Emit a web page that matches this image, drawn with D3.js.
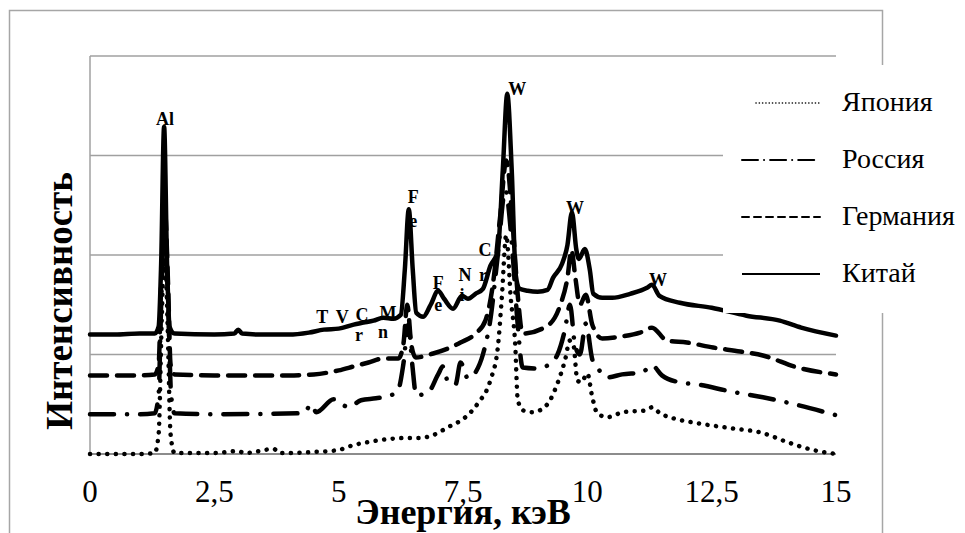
<!DOCTYPE html>
<html>
<head>
<meta charset="utf-8">
<script src="https://cdn.jsdelivr.net/npm/d3@7"></script>
<style>
  body { margin: 0; background: #fff; }
  text { font-family: "Liberation Serif", "DejaVu Serif", "Times New Roman", Times, serif; }
</style>
</head>
<body>
<svg id="chart" width="965" height="533"></svg>
<script>
// spectra, [energy keV, intensity a.u.] (curves are offset vertically like in the source)
const chinaData = [
  [0,120],[0.5,120],[1.0,121],[1.3,121],[1.38,128],[1.43,190],[1.49,329],[1.55,190],[1.6,128],[1.7,121],
  [2.5,120],[2.9,121],[2.98,125],[3.06,121],[3.5,120],[4.0,120],[4.4,122],[4.7,125],[5.0,126],[5.3,130],
  [5.5,132],[5.7,134],[5.9,137],[6.1,136],[6.25,140],[6.33,185],[6.41,246],[6.49,185],[6.56,142],[6.7,138],
  [6.85,150],[7.0,164],[7.12,156],[7.3,146],[7.48,159],[7.6,156],[7.75,161],[7.9,166],[8.05,189],[8.2,204],
  [8.3,285],[8.39,362],[8.48,285],[8.56,180],[8.64,166],[8.8,164],[9.0,163],[9.2,165],[9.31,177],[9.49,191],
  [9.6,210],[9.69,243],[9.78,205],[9.83,196],[9.95,206],[10.05,185],[10.12,161],[10.3,157],[10.5,157],
  [10.86,161],[11.2,167],[11.3,170],[11.45,159],[11.86,152],[12.5,147],[13.2,139],[13.87,134],[14.3,127],[15,119]
];
const germanyData = [
  [0,79],[1.0,79],[1.3,80],[1.38,90],[1.43,170],[1.5,250],[1.57,170],[1.62,90],[1.7,80],[2.5,79],[4.0,79],
  [4.5,80],[5.0,84],[5.3,88],[5.6,92],[5.9,96],[6.2,96],[6.3,110],[6.38,150],[6.46,110],[6.55,97],[6.9,101],
  [7.2,106],[7.45,112],[7.75,121],[7.95,134],[8.1,170],[8.25,240],[8.37,295],[8.5,230],[8.6,160],[8.7,121],
  [9.2,129],[9.45,149],[9.6,177],[9.68,205],[9.76,177],[9.85,150],[9.97,160],[10.1,130],[10.3,116],[10.66,118],
  [11.06,122],[11.3,127],[11.6,114],[12.0,112],[12.53,107],[13.07,103],[13.53,99],[14.22,87],[15,80]
];
const russiaData = [
  [0,40],[1.0,40],[1.3,41],[1.38,60],[1.43,150],[1.5,235],[1.57,150],[1.63,60],[1.7,41],[2.5,40],[4.3,41],
  [4.45,50],[4.55,42],[4.9,55],[5.2,47],[5.45,54],[5.75,56],[6.05,59],[6.2,65],[6.3,90],[6.4,130],[6.48,90],
  [6.56,59],[6.8,62],[7.0,80],[7.1,88],[7.2,72],[7.35,70],[7.45,92],[7.6,76],[7.75,82],[7.9,100],[8.05,135],
  [8.2,200],[8.35,265],[8.5,200],[8.6,130],[8.7,87],[9.0,86],[9.2,89],[9.4,100],[9.55,125],[9.65,150],
  [9.75,110],[9.85,100],[9.97,131],[10.1,95],[10.2,87],[10.4,77],[10.7,80],[11.1,82],[11.3,89],[11.5,79],
  [11.86,72],[12.2,70],[12.87,63],[13.53,57],[14.08,51],[15,39]
];
const japanData = [
  [0,0],[1.0,0],[1.3,1],[1.38,20],[1.44,130],[1.5,215],[1.56,130],[1.62,20],[1.7,1],[2.5,1],[2.98,3],[3.1,1],
  [3.7,5],[3.8,1],[4.5,2],[4.99,4],[5.3,9],[5.6,12],[6.0,15],[6.3,16],[6.6,16],[6.9,19],[7.2,27],[7.55,37],
  [7.8,51],[8.05,74],[8.2,107],[8.28,157],[8.37,220],[8.46,157],[8.55,110],[8.6,55],[8.7,44],[8.9,42],
  [9.05,44],[9.25,54],[9.4,71],[9.55,94],[9.65,114],[9.72,110],[9.8,74],[9.88,72],[10.0,81],[10.1,57],
  [10.2,41],[10.4,37],[10.72,42],[11.2,44],[11.3,47],[11.46,41],[11.72,36],[12.21,31],[12.87,26],[13.53,21],
  [14.02,12],[14.54,4],[15,0]
];

const xTicks = [0, 2.5, 5, 7.5, 10, 12.5, 15];
const yGrid = [0, 100, 200, 300, 400];

// element labels: text, energy, intensity level
const peakLabels = [
  ["Al", 1.51, 331], ["W", 8.59, 361], ["F", 6.5, 252], ["e", 6.5, 228],
  ["F", 7.0, 166], ["e", 7.0, 144], ["N", 7.54, 174], ["i", 7.48, 154],
  ["C", 7.94, 199], ["r", 7.9, 174], ["W", 9.75, 241], ["W", 11.42, 169],
  ["T", 4.67, 132], ["V", 5.07, 132], ["C", 5.47, 134], ["r", 5.41, 114],
  ["M", 5.99, 136], ["n", 5.89, 117]
];

const series = [
  { name: "Япония", data: japanData, dash: "0.1,8.5", legendDash: "0.1,3.2", legendWidth: 1.6 },
  { name: "Россия", data: russiaData, dash: "24,13,0.1,13", legendDash: "16,6,0.1,6", legendWidth: 2 },
  { name: "Германия", data: germanyData, dash: "17,10", legendDash: "7,5", legendWidth: 2 },
  { name: "Китай", data: chinaData, dash: null, legendDash: null, legendWidth: 2.2 }
];

const serif = "'Liberation Serif', 'DejaVu Serif', 'Times New Roman', Times, serif";

const svg = d3.select("#chart");
const margin = { top: 56, right: 129, bottom: 79, left: 90 };
const width = 965 - margin.left - margin.right;
const height = 533 - margin.top - margin.bottom;

// outer chart border
svg.append("rect")
  .attr("x", 9.5).attr("y", 10.5)
  .attr("width", 873).attr("height", 540)
  .attr("fill", "none")
  .attr("stroke", "#a6a6a6")
  .attr("stroke-width", 1.5);

const g = svg.append("g")
  .attr("transform", `translate(${margin.left},${margin.top})`);

const x = d3.scaleLinear().domain([0, 15]).range([0, width]);
const y = d3.scaleLinear().domain([0, 400]).range([height, 0]);

// gridlines
g.selectAll(".grid")
  .data(yGrid)
  .enter()
  .append("line")
  .attr("x1", 0)
  .attr("x2", width)
  .attr("y1", d => y(d))
  .attr("y2", d => y(d))
  .attr("stroke", d => d === 0 ? "#8c8c8c" : "#a0a0a0")
  .attr("stroke-width", d => d === 0 ? 2 : 1.5);

g.append("line")
  .attr("x1", 0).attr("x2", 0)
  .attr("y1", 0).attr("y2", height)
  .attr("stroke", "#a0a0a0")
  .attr("stroke-width", 1.5);

// x tick labels
g.selectAll(".xtick")
  .data(xTicks)
  .enter()
  .append("text")
  .attr("x", d => x(d))
  .attr("y", height + 48)
  .attr("text-anchor", "middle")
  .style("font-family", serif)
  .style("font-size", "31px")
  .text(d => String(d).replace(".", ","));

// lines
const line = d3.line()
  .x(d => x(d[0]))
  .y(d => y(d[1]))
  .curve(d3.curveMonotoneX);

g.selectAll(".spectrum")
  .data(series)
  .enter()
  .append("path")
  .attr("class", "spectrum")
  .attr("d", d => line(d.data))
  .attr("fill", "none")
  .attr("stroke", "#000")
  .attr("stroke-width", 4.5)
  .attr("stroke-linecap", "round")
  .attr("stroke-linejoin", "round")
  .attr("stroke-dasharray", d => d.dash);

// element labels
g.selectAll(".peak")
  .data(peakLabels)
  .enter()
  .append("text")
  .attr("x", d => x(d[1]))
  .attr("y", d => y(d[2]))
  .attr("text-anchor", "middle")
  .style("font-family", serif)
  .style("font-size", "18px")
  .style("font-weight", "bold")
  .text(d => d[0]);

// axis titles
svg.append("text")
  .attr("x", 463)
  .attr("y", 524)
  .attr("text-anchor", "middle")
  .style("font-family", serif)
  .style("font-size", "36px")
  .style("font-weight", "bold")
  .text("Энергия, кэВ");

svg.append("text")
  .attr("transform", "translate(72,301) rotate(-90)")
  .attr("text-anchor", "middle")
  .style("font-family", serif)
  .style("font-size", "37px")
  .style("font-weight", "bold")
  .text("Интенсивность");

// Legend
const legend = svg.append("g").attr("class", "legend");

legend.append("rect")
  .attr("x", 723).attr("y", 65)
  .attr("width", 250).attr("height", 248)
  .attr("fill", "#fff");

const legendItems = legend.selectAll(".legend-item")
  .data(series)
  .enter()
  .append("g")
  .attr("class", "legend-item")
  .attr("transform", (_, i) => `translate(0, ${103 + i * 57})`);

legendItems.append("line")
  .attr("x1", d => d.name === "Япония" ? 756 : 742)
  .attr("x2", 820)
  .attr("y1", 0).attr("y2", 0)
  .attr("stroke", "#000")
  .attr("stroke-width", d => d.legendWidth)
  .attr("stroke-linecap", d => d.dash ? "round" : "butt")
  .attr("stroke-dasharray", d => d.legendDash);

legendItems.append("text")
  .attr("x", 842)
  .attr("y", 8)
  .style("font-family", serif)
  .style("font-size", "28px")
  .text(d => d.name);
</script>
</body>
</html>
